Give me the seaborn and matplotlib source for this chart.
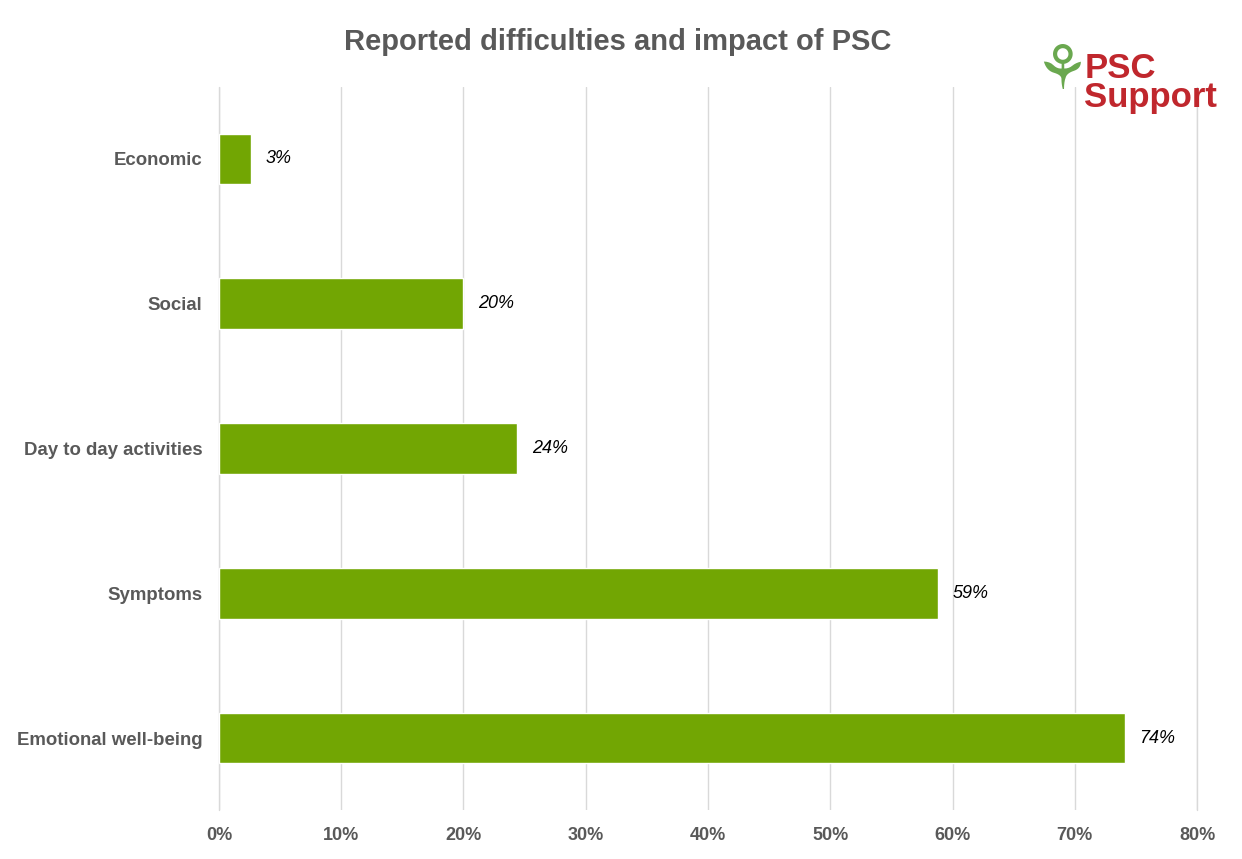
import matplotlib
matplotlib.use("Agg")
import matplotlib.pyplot as plt
import seaborn as sns
import pandas as pd

categories = ["Economic", "Social", "Day to day activities", "Symptoms", "Emotional well-being"]
values = [2.6, 20.0, 24.4, 58.8, 74.1]
labels = ["3%", "20%", "24%", "59%", "74%"]
ticks = [0, 10, 20, 30, 40, 50, 60, 70, 80]

df = pd.DataFrame({"cat": categories, "val": values})

sns.set_theme(style="white")
plt.rcParams["font.family"] = ["Liberation Sans", "DejaVu Sans"]

fig = plt.figure(figsize=(12.42, 8.59), dpi=100)
ax = fig.add_axes([0.1763, 0.0565, 0.7875, 0.8428])

sns.barplot(data=df, y="cat", x="val", color="#72a603", saturation=1, width=0.35, ax=ax, zorder=3)

for i, (v, lab) in enumerate(zip(values, labels)):
    ax.text(v + 1.2, i, lab, va="center", ha="left", fontsize=13, style="italic", color="black")

ax.set_xlim(0, 80)
ax.set_ylim(4.5, -0.5)
ax.set_xticks(ticks)
ax.set_xticklabels([f"{t}%" for t in ticks], fontsize=13, fontweight="bold", color="#595959")
ax.tick_params(axis="y", labelsize=13.4, colors="#595959", length=0, pad=12)
for t in ax.get_yticklabels():
    t.set_fontweight("bold")
ax.tick_params(axis="x", length=0, pad=12)
ax.xaxis.grid(True, color="#d9d9d9", linewidth=1, zorder=0)
ax.axvline(80, color="#d9d9d9", linewidth=1, zorder=0, clip_on=False)
ax.axvline(0, color="#d9d9d9", linewidth=1, zorder=0, clip_on=False)
ax.set_xlabel("")
ax.set_ylabel("")
for s in ax.spines.values():
    s.set_visible(False)

fig.text(0.497, 0.951, "Reported difficulties and impact of PSC", ha="center", va="center",
         fontsize=21, fontweight="bold", color="#595959")

# logo
fig.text(0.873, 0.903, "PSC\nSupport", ha="left", va="center", fontsize=25,
         color="#c0272d", linespacing=0.85, fontweight="bold")
fig.text(0.855, 0.915, "\u2698", ha="center", va="center", fontsize=44, color="#6aa84f")

fig.savefig("out.png", dpi=100)
